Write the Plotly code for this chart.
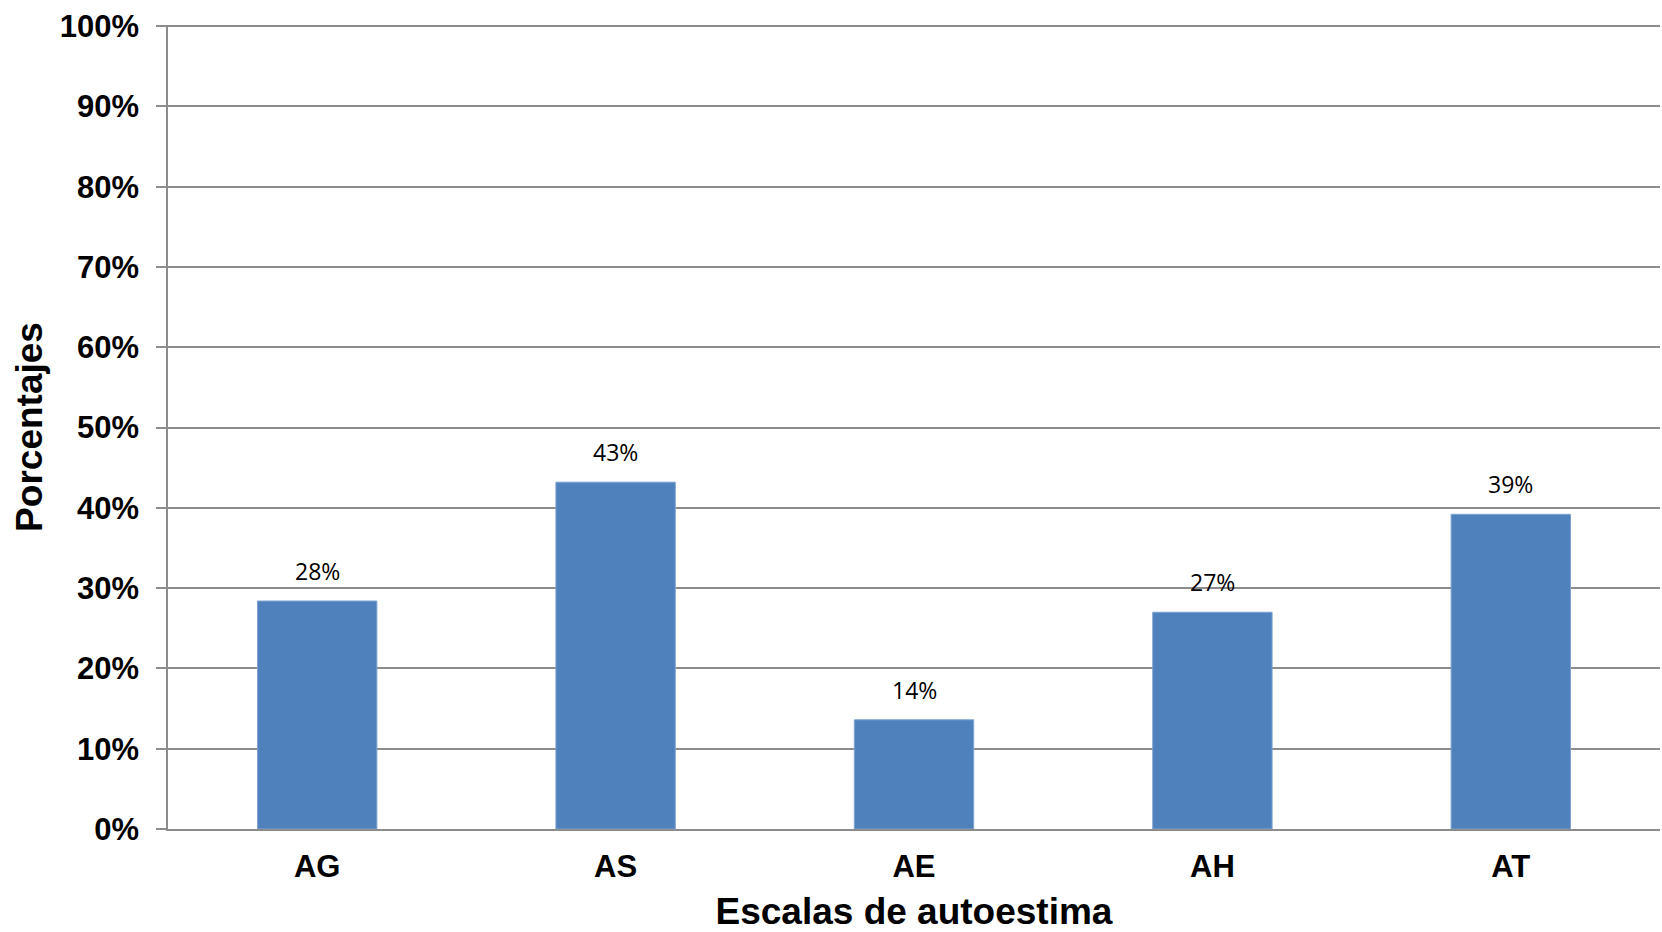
import plotly.graph_objects as go

# Escalas de autoestima y su porcentaje
escalas = ["AG", "AS", "AE", "AH", "AT"]
porcentajes = [0.284, 0.432, 0.136, 0.270, 0.392]
ticks_y = [0, 0.1, 0.2, 0.3, 0.4, 0.5, 0.6, 0.7, 0.8, 0.9, 1.0]

GRID = "#8c8c8c"
BOLD = "Liberation Sans, Arial, sans-serif"

fig = go.Figure(
    go.Bar(
        x=escalas,
        y=porcentajes,
        marker=dict(color="#4F81BD", line=dict(color="#7fa3d0", width=1)),
        width=0.4,
        cliponaxis=False,
    )
)

# Etiquetas de valor encima de cada barra
for esc, val in zip(escalas, porcentajes):
    fig.add_annotation(
        x=esc,
        y=val,
        text=f"{round(val * 100)}%",
        showarrow=False,
        yanchor="bottom",
        yshift=12,
        font=dict(family="Open Sans, sans-serif", size=23, color="#000000"),
    )

fig.update_layout(
    width=1662,
    height=932,
    margin=dict(l=168, r=2, t=25, b=103),
    paper_bgcolor="white",
    plot_bgcolor="white",
    showlegend=False,
    font=dict(family=BOLD, color="#000000"),
)

fig.update_yaxes(
    range=[0, 1.0015],
    tickvals=ticks_y,
    tickformat=".0%",
    showgrid=True,
    gridcolor=GRID,
    gridwidth=1.5,
    showline=True,
    linecolor=GRID,
    linewidth=1.5,
    ticks="outside",
    ticklen=10,
    tickcolor=GRID,
    tickwidth=1.5,
    ticklabelstandoff=11,
    tickfont=dict(family=BOLD, size=31, color="#000000", weight="bold"),
    title=dict(
        text="<b>Porcentajes</b>",
        font=dict(family=BOLD, size=37, color="#000000"),
        standoff=6,
    ),
    zeroline=False,
    automargin=False,
)

fig.update_xaxes(
    showline=True,
    linecolor=GRID,
    linewidth=1.5,
    ticks="",
    tickfont=dict(family=BOLD, size=31, color="#000000", weight="bold"),
    ticklabelstandoff=9,
    title=dict(
        text="<b>Escalas de autoestima</b>",
        font=dict(family=BOLD, size=37, color="#000000"),
        standoff=19,
    ),
    automargin=False,
)

fig.write_html("out.html")
